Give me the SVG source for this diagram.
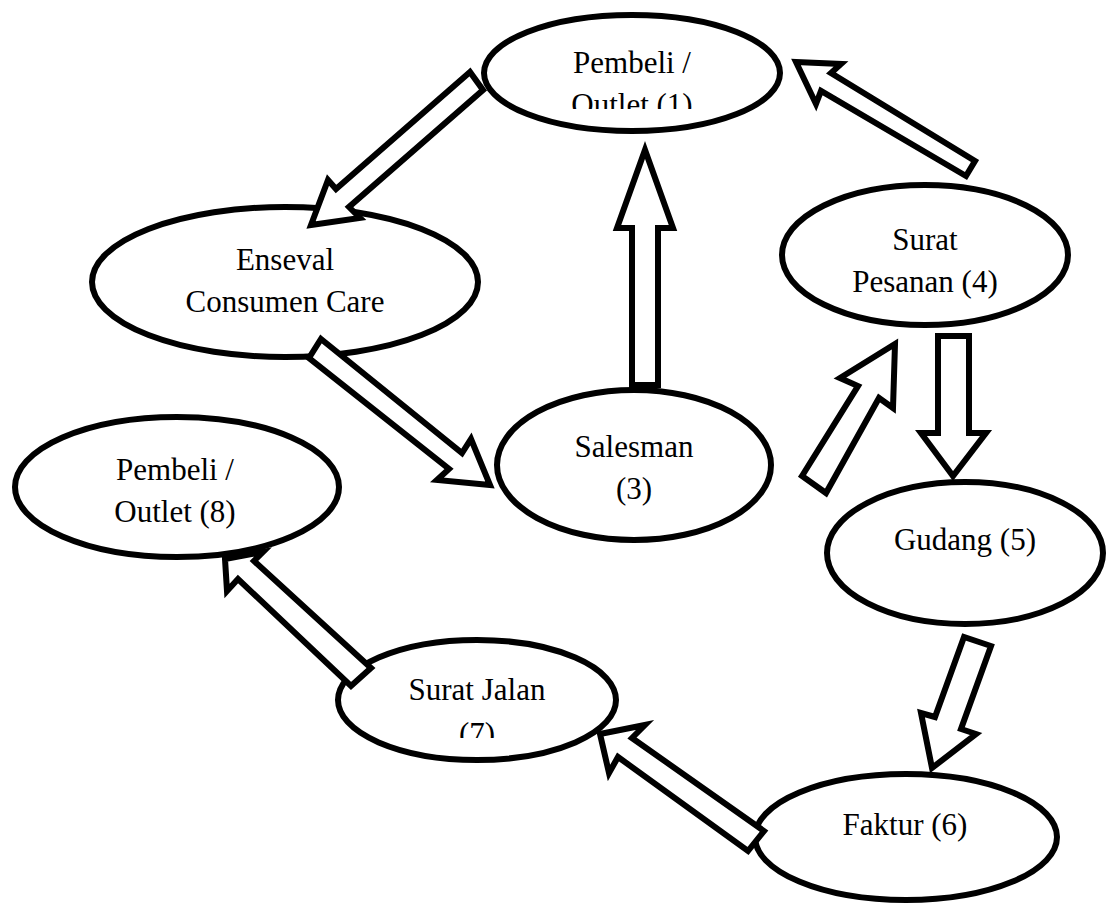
<svg xmlns="http://www.w3.org/2000/svg" width="1106" height="905" viewBox="0 0 1106 905">
<style>
.node{fill:#fff;stroke:#000;stroke-width:6}
.arr{fill:#fff;stroke:#000;stroke-width:6;stroke-linejoin:miter}
text{font-family:"Liberation Serif","Times New Roman",serif;font-size:31px;fill:#000;text-anchor:middle}
</style>
<defs>
<clipPath id="c1"><rect x="480" y="20" width="300" height="89"/></clipPath>
<clipPath id="c7"><rect x="340" y="640" width="280" height="98"/></clipPath>
</defs>
<rect width="1106" height="905" fill="#fff"/>
<g id="n1"><ellipse class="node" cx="632" cy="73" rx="148" ry="58"/><g clip-path="url(#c1)"><text x="632" y="73" font-family="Liberation Serif, serif">Pembeli /</text><text x="632" y="115" font-family="Liberation Serif, serif">Outlet (1)</text></g></g>
<g id="n2"><ellipse class="node" cx="285" cy="282" rx="193" ry="75"/><text x="285" y="270" font-family="Liberation Serif, serif">Enseval</text><text x="285" y="312" font-family="Liberation Serif, serif">Consumen Care</text></g>
<g id="n3"><ellipse class="node" cx="634" cy="465" rx="137" ry="75"/><text x="634" y="457" font-family="Liberation Serif, serif">Salesman</text><text x="634" y="499" font-family="Liberation Serif, serif">(3)</text></g>
<g id="n4"><ellipse class="node" cx="925" cy="255" rx="143" ry="70"/><text x="925" y="250" font-family="Liberation Serif, serif">Surat</text><text x="925" y="292" font-family="Liberation Serif, serif">Pesanan (4)</text></g>
<g id="n5"><ellipse class="node" cx="965" cy="553" rx="138" ry="71"/><text x="965" y="550" font-family="Liberation Serif, serif">Gudang (5)</text></g>
<g id="n6"><ellipse class="node" cx="906" cy="837" rx="151" ry="63"/><text x="905" y="835" font-family="Liberation Serif, serif">Faktur (6)</text></g>
<g id="n7"><ellipse class="node" cx="477" cy="700" rx="139" ry="60"/><g clip-path="url(#c7)"><text x="477" y="700" font-family="Liberation Serif, serif">Surat Jalan</text><text x="477" y="744" font-family="Liberation Serif, serif">(7)</text></g></g>
<g id="n8"><ellipse class="node" cx="177" cy="487" rx="162" ry="70"/><text x="175" y="480" font-family="Liberation Serif, serif">Pembeli /</text><text x="175" y="522" font-family="Liberation Serif, serif">Outlet (8)</text></g>
<g id="connectors">
<polygon class="arr" points="470,72 336,189 328,180 311,225 360,218 349,207 483,90"/>
<polygon class="arr" points="632,385 632,228 617,228 645,150 673,228 658,228 658,385"/>
<polygon class="arr" points="796,62 841,64 831,73 975,161 966,176 821,91 816,104"/>
<polygon class="arr" points="321,339 462,453 471,439 490,485 437,480 449,469 309,358"/>
<polygon class="arr" points="802,476 858,386 840,378 895,344 893,408 879,398 826,493"/>
<polygon class="arr" points="938,336 938,433 921,433 953,476 986,433 969,433 969,336"/>
<polygon class="arr" points="964,637 935,717 921,713 932,768 976,734 961,729 991,646"/>
<polygon class="arr" points="600,734 645,725 632,738 764,831 748,851 618,757 609,773"/>
<polygon class="arr" points="225,559 263,552 254,561 371,668 351,686 238,579 227,591"/>
</g>
</svg>
